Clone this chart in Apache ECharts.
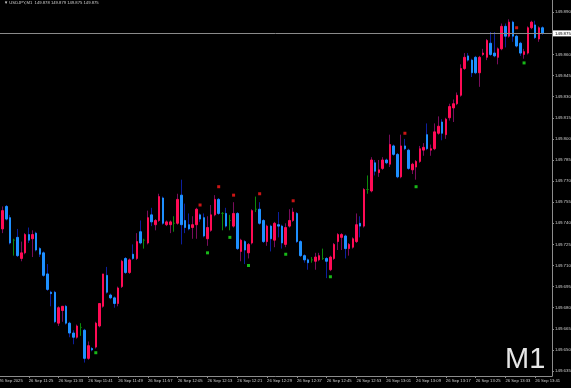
<!DOCTYPE html>
<html><head><meta charset="utf-8">
<script src="https://cdn.jsdelivr.net/npm/echarts@6/dist/echarts.min.js"></script>
<style>html,body{margin:0;padding:0;background:#000;}#c{width:571px;height:388px;}</style>
</head><body><div id="c"></div>
<script>
const times = [
'11:17','11:18','11:19','11:20','11:21','11:22','11:23','11:24','11:25','11:26','11:27','11:28','11:29','11:30','11:31','11:32','11:33','11:34','11:35','11:36','11:37','11:38','11:39','11:40','11:41','11:42','11:43','11:44','11:45','11:46','11:47','11:48','11:49','11:50','11:51','11:52','11:53','11:54','11:55','11:56','11:57','11:58','11:59',
'12:00','12:01','12:02','12:03','12:04','12:05','12:06','12:07','12:08','12:09','12:10','12:11','12:12','12:13','12:14','12:15','12:16','12:17','12:18','12:19','12:20','12:21','12:22','12:23','12:24','12:25','12:26','12:27','12:28','12:29','12:30','12:31','12:32','12:33','12:34','12:35','12:36','12:37','12:38','12:39','12:40','12:41','12:42','12:43','12:44','12:45','12:46','12:47','12:48','12:49','12:50','12:51','12:52','12:53','12:54','12:55','12:56','12:57','12:58','12:59',
'13:00','13:01','13:02','13:03','13:04','13:05','13:06','13:07','13:08','13:09','13:10','13:11','13:12','13:13','13:14','13:15','13:16','13:17','13:18','13:19','13:20','13:21','13:22','13:23','13:24','13:25','13:26','13:27','13:28','13:29','13:30','13:31','13:32','13:33','13:34','13:35','13:36','13:37','13:38','13:39','13:40','13:41','13:42','13:43'];

const open = [149.747,149.736,149.752,149.744,149.728,149.730,149.715,149.719,149.732,149.729,
149.733,149.722,149.719,149.704,149.691,149.691,149.669,149.678,149.681,149.669,
149.662,149.659,149.666,149.664,149.644,149.651,149.652,149.667,149.681,149.703,
149.689,149.687,149.683,149.695,149.715,149.705,149.718,149.715,149.734,149.728,
149.726,149.746,149.739,149.742,149.758,149.739,149.739,149.740,149.740,149.760,
149.742,149.739,149.737,149.739,149.746,149.744,149.729,149.735,149.746,149.757,
149.747,149.747,149.742,149.738,149.747,149.720,149.727,149.719,149.726,149.750,
149.750,149.742,149.727,149.738,149.728,149.739,149.738,149.725,149.738,149.742,
149.747,149.727,149.717,149.714,149.714,149.713,149.714,149.715,149.715,149.707,
149.715,149.727,149.730,149.731,149.722,149.723,149.727,149.740,149.738,149.764,
149.763,149.783,149.776,149.779,149.785,149.782,149.795,149.789,149.773,149.795,
149.792,149.778,149.780,149.784,149.792,149.803,149.792,149.793,149.804,149.812,
149.803,149.815,149.822,149.825,149.831,149.850,149.859,149.856,149.858,149.847,
149.860,149.858,149.868,149.861,149.858,149.864,149.880,149.873,149.883,149.873,
149.868,149.860,149.861,149.879,149.881,149.871,149.879];
const close = [149.730,149.749,149.743,149.726,149.728,149.717,149.719,149.732,149.728,149.732,
149.721,149.718,149.703,149.693,149.690,149.670,149.680,149.681,149.669,149.662,
149.659,149.667,149.666,149.644,149.653,149.650,149.669,149.683,149.704,149.691,
149.687,149.683,149.694,149.713,149.705,149.714,149.715,149.727,149.726,149.728,
149.744,149.741,149.742,149.759,149.740,149.741,149.741,149.740,149.757,149.739,
149.737,149.736,149.739,149.750,149.743,149.731,149.737,149.746,149.757,149.747,
149.747,149.738,149.742,149.747,149.722,149.728,149.721,149.725,149.749,149.750,
149.740,149.727,149.738,149.729,149.740,149.738,149.726,149.737,149.742,149.748,
149.727,149.717,149.714,149.712,149.714,149.716,149.717,149.715,149.713,149.716,
149.725,149.732,149.732,149.722,149.725,149.729,149.739,149.738,149.764,149.764,
149.785,149.777,149.778,149.785,149.783,149.796,149.789,149.773,149.795,149.793,
149.779,149.782,149.784,149.793,149.794,149.793,149.793,149.805,149.809,149.804,
149.814,149.823,149.825,149.831,149.850,149.858,149.856,149.847,149.847,149.858,
149.861,149.870,149.860,149.859,149.864,149.880,149.873,149.883,149.873,149.866,
149.861,149.862,149.879,149.883,149.872,149.879,149.875];
const low = [149.728,149.733,149.742,149.725,149.717,149.716,149.713,149.718,149.726,149.716,
149.720,149.716,149.702,149.692,149.681,149.669,149.667,149.670,149.668,149.659,
149.654,149.658,149.660,149.641,149.643,149.649,149.651,149.666,149.680,149.690,
149.686,149.680,149.681,149.694,149.704,149.704,149.714,149.714,149.725,149.722,
149.725,149.738,149.735,149.741,149.739,149.738,149.733,149.734,149.739,149.725,
149.733,149.735,149.729,149.729,149.741,149.730,149.724,149.734,149.745,149.746,
149.735,149.737,149.735,149.737,149.721,149.713,149.711,149.715,149.725,149.748,
149.739,149.726,149.724,149.720,149.723,149.730,149.722,149.723,149.737,149.741,
149.726,149.716,149.712,149.707,149.712,149.707,149.713,149.714,149.701,149.706,
149.714,149.721,149.721,149.715,149.717,149.722,149.726,149.730,149.737,149.761,
149.762,149.774,149.773,149.778,149.782,149.780,149.788,149.772,149.772,149.792,
149.778,149.775,149.771,149.783,149.788,149.792,149.788,149.792,149.803,149.799,
149.800,149.813,149.812,149.824,149.830,149.849,149.855,149.844,149.846,149.837,
149.859,149.856,149.859,149.858,149.853,149.863,149.865,149.872,149.869,149.865,
149.859,149.857,149.860,149.878,149.871,149.869,149.874];
const high = [149.750,149.752,149.753,149.746,149.729,149.736,149.727,149.733,149.737,149.735,
149.734,149.723,149.720,149.711,149.692,149.692,149.681,149.681,149.682,149.670,
149.664,149.668,149.669,149.665,149.656,149.652,149.670,149.683,149.704,149.709,
149.690,149.688,149.695,149.714,149.716,149.715,149.725,149.733,149.742,149.729,
149.749,149.751,149.743,149.761,149.759,149.742,149.742,149.745,149.761,149.771,
149.754,149.747,149.745,149.751,149.747,149.747,149.745,149.753,149.760,149.758,
149.748,149.751,149.746,149.755,149.748,149.729,149.728,149.726,149.750,149.759,
149.755,149.743,149.739,149.739,149.741,149.748,149.739,149.740,149.750,149.751,
149.748,149.728,149.718,149.715,149.716,149.719,149.719,149.722,149.716,149.717,
149.726,149.733,149.733,149.732,149.726,149.730,149.747,149.745,149.765,149.774,
149.787,149.785,149.785,149.787,149.786,149.803,149.796,149.790,149.803,149.800,
149.793,149.783,149.785,149.795,149.797,149.811,149.796,149.811,149.816,149.814,
149.815,149.825,149.828,149.833,149.853,149.861,149.861,149.857,149.859,149.859,
149.864,149.871,149.876,149.876,149.865,149.882,149.882,149.885,149.884,149.874,
149.869,149.864,149.880,149.884,149.884,149.880,149.880];

const upDotIdx = [54, 59, 63, 70, 79, 109, 139];
const upDotVal = [149.753, 149.766, 149.760, 149.761, 149.756, 149.804, 149.879];
const dnDotIdx = [26, 56, 62, 67, 77, 89, 112, 141];
const dnDotVal = [149.648, 149.719, 149.730, 149.710, 149.718, 149.702, 149.766, 149.854];

const yTicks = [149.635,149.650,149.665,149.680,149.695,149.710,149.725,149.740,149.755,149.770,149.785,149.800,149.815,149.830,149.845,149.860,149.875,149.890];
const currentPrice = 149.875;
const headerText = '\u25BC USDJPY,M1  149.878 149.879 149.875 149.875';
const dateLabel = '26 Sep 2025';
const dayPrefix = '26 Sep ';
const timeframe = 'M1';

const cats = times.concat(['', '']);
const wickData = open.map((o, i) => [o, close[i], low[i], high[i]]);
const bodyData = open.map((o, i) => [o, close[i], Math.min(o, close[i]), Math.max(o, close[i])]);

const FONT = 'Liberation Sans, Arial, sans-serif';
const chart = echarts.init(document.getElementById('c'), null, {renderer: 'canvas'});
chart.setOption({
  backgroundColor: '#000',
  animation: false,
  grid: {left: -2.9, right: 19, top: 0, bottom: 12, containLabel: false, outerBoundsMode: 'none'},
  xAxis: {
    type: 'category', data: cats, boundaryGap: true,
    axisLine: {lineStyle: {color: '#8c8c8c', width: 1}},
    axisTick: {show: true, interval: 7, alignWithLabel: true, length: 2, lineStyle: {color: '#8c8c8c'}},
    axisLabel: {interval: 7, align: 'left', color: '#cfcfcf', fontSize: 4.2, margin: 3, fontFamily: FONT, hideOverlap: false,
      formatter: (v, i) => i === 0 ? dateLabel : dayPrefix + v},
    splitLine: {show: false}
  },
  yAxis: {
    type: 'value', position: 'right', min: 149.63145, max: 149.89873, scale: true,
    axisLine: {show: true, lineStyle: {color: '#8c8c8c', width: 1}},
    axisTick: {show: true, customValues: yTicks, length: 2, lineStyle: {color: '#8c8c8c'}},
    axisLabel: {customValues: yTicks, formatter: v => v.toFixed(3), color: '#cfcfcf', fontSize: 4.4, margin: 3, fontFamily: FONT},
    splitLine: {show: false}
  },
  graphic: [
    {type: 'text', left: 4, top: 1, style: {text: headerText, fill: '#cfcfcf', fontSize: 4.2, fontFamily: FONT}},
    {type: 'text', x: 505, y: 345, style: {text: timeframe, fill: '#e6e6e6', fontSize: 29, fontFamily: FONT, textVerticalAlign: 'top'}}
  ],
  series: [
    {
      type: 'candlestick', data: wickData, barWidth: 1, silent: true,
      itemStyle: {color: '#7a0c5c', color0: '#0c1f9e', borderColor: '#7a0c5c', borderColor0: '#0c1f9e', borderColorDoji: '#0b8a0b', borderWidth: 1},
      markLine: {
        symbol: ['none', 'none'], silent: true, animation: false, precision: 3,
        data: [{yAxis: currentPrice}],
        lineStyle: {color: '#8a8a8a', width: 1, type: 'solid'},
        label: {show: true, position: 'end', formatter: currentPrice.toFixed(3), color: '#000', backgroundColor: '#ffffff', fontSize: 4.4, padding: [1, 2, 1, 2], distance: 1, fontFamily: FONT}
      }
    },
    {
      type: 'candlestick', data: bodyData, barWidth: 2, silent: true,
      itemStyle: {color: '#ff0b55', color0: '#1e90ff', borderColor: '#ff0b55', borderColor0: '#1e90ff', borderColorDoji: '#0b8a0b', borderWidth: 1}
    },
    {
      type: 'scatter', data: upDotIdx.map((x, k) => [x, upDotVal[k]]), symbol: 'rect', symbolSize: 3, silent: true,
      itemStyle: {color: '#ff1a1a'}
    },
    {
      type: 'scatter', data: dnDotIdx.map((x, k) => [x, dnDotVal[k]]), symbol: 'rect', symbolSize: 3, silent: true,
      itemStyle: {color: '#1ee61e'}
    }
  ]
});
</script></body></html>
